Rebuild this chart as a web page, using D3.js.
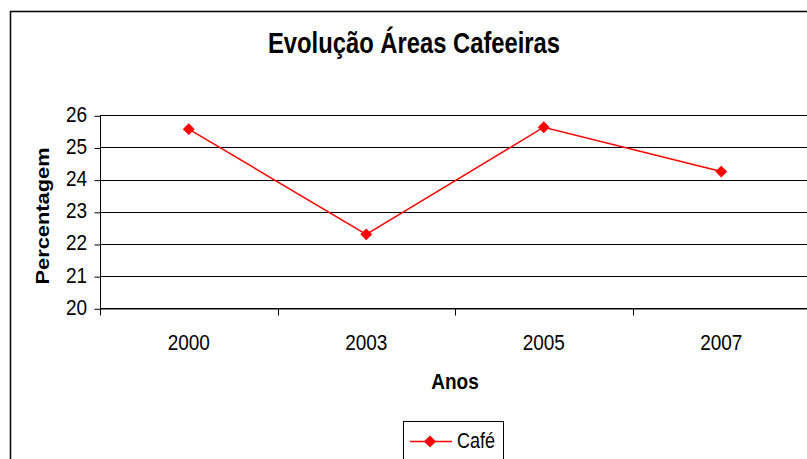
<!DOCTYPE html>
<html>
  <head>
    <meta charset="utf-8">
    <title>Evolução Áreas Cafeeiras</title>
    <script src="https://d3js.org/d3.v7.min.js"></script>
    <style>
      body { margin: 0; background: #fff; }
      text { font-family: "Liberation Sans", Arial, sans-serif; fill: #000; }
    </style>
  </head>
  <body>
    <svg id="grafico"></svg>
    <script>
      // dados
      var anos = ["2000", "2003", "2005", "2007"];
      var cafe = [25.57, 22.3, 25.63, 24.25];
      var ticksY = [20, 21, 22, 23, 24, 25, 26];

      var largura = 807, altura = 459;
      var esq = 100, dir = 810, topo = 115.3, base = 308.3;
      var esticar = 1.2; // o original está esticado na vertical

      var svg = d3.select("#grafico")
        .attr("width", largura)
        .attr("height", altura);

      // moldura exterior
      svg.append("rect")
        .attr("x", 10.5).attr("y", 11.5)
        .attr("width", 820).attr("height", 470)
        .attr("fill", "none").attr("stroke", "#000").attr("stroke-width", 1.5);

      var x = d3.scaleBand().domain(anos).range([esq, dir]);
      var y = d3.scaleLinear().domain([20, 26]).range([base, topo]);

      function texto(tx, ty, t, tam, peso, ancora, rot) {
        var tr = "translate(" + tx + "," + ty + ")" + (rot ? " rotate(" + rot + ")" : "");
        tr += rot ? " scale(" + esticar + ",1)" : " scale(1," + esticar + ")";
        return svg.append("text")
          .attr("transform", tr)
          .attr("text-anchor", ancora || "middle")
          .attr("font-size", tam)
          .attr("font-weight", peso || "normal")
          .text(t);
      }

      // linhas de grelha
      svg.append("g").selectAll("line")
        .data(ticksY)
        .join("line")
        .attr("x1", esq).attr("x2", dir)
        .attr("y1", function(d) { return Math.round(y(d)) + 0.5; })
        .attr("y2", function(d) { return Math.round(y(d)) + 0.5; })
        .attr("stroke", "#000").attr("stroke-width", 1);

      // eixo Y
      var eixoY = d3.axisLeft(y).tickValues(ticksY).tickSize(6).tickFormat("");
      var gY = svg.append("g").attr("transform", "translate(" + (esq + 0.5) + ",0.5)").call(eixoY);
      gY.select(".domain").attr("d", "M0," + (Math.round(topo) - 0.5) + "V" + (Math.round(base) + 7));
      gY.selectAll("line, path").attr("stroke", "#000");

      ticksY.forEach(function(d) {
        texto(87, y(d) + 6.5, d, 19, "normal", "end");
      });

      // eixo X
      var eixoX = d3.axisBottom(x).tickSize(0).tickFormat("");
      var gX = svg.append("g").attr("transform", "translate(0," + (Math.round(base) + 0.5) + ")").call(eixoX);
      gX.select(".domain").attr("stroke", "#000");
      gX.selectAll(".divisao")
        .data(anos.slice(1).concat(["fim"]))
        .join("line")
        .attr("x1", function(d, i) { return Math.round(x(anos[0]) + (i + 1) * x.step()) + 0.5; })
        .attr("x2", function(d, i) { return Math.round(x(anos[0]) + (i + 1) * x.step()) + 0.5; })
        .attr("y1", 0).attr("y2", 7)
        .attr("stroke", "#000");

      anos.forEach(function(a) {
        texto(x(a) + x.bandwidth() / 2, 350, a, 19, "normal", "middle");
      });

      // série
      var linha = d3.line()
        .x(function(d, i) { return x(anos[i]) + x.bandwidth() / 2; })
        .y(function(d) { return y(d); });

      svg.append("path")
        .datum(cafe)
        .attr("d", linha)
        .attr("fill", "none")
        .attr("stroke", "#ff0000")
        .attr("stroke-width", 1.5);

      var losango = d3.symbol().type(d3.symbolDiamond2).size(90);
      svg.append("g").selectAll("path")
        .data(cafe)
        .join("path")
        .attr("d", losango)
        .attr("transform", function(d, i) {
          return "translate(" + (x(anos[i]) + x.bandwidth() / 2) + "," + y(d) + ")";
        })
        .attr("fill", "#ff0000");

      // títulos
      texto(414, 53, "Evolução Áreas Cafeeiras", 23.8, "bold", "middle");
      texto(455, 389, "Anos", 19, "bold", "middle");
      texto(49, 216, "Percentagem", 18.2, "bold", "middle", -90);

      // legenda
      svg.append("rect")
        .attr("x", 403.5).attr("y", 421.5)
        .attr("width", 100).attr("height", 60)
        .attr("fill", "none").attr("stroke", "#000").attr("stroke-width", 1);
      svg.append("line")
        .attr("x1", 410).attr("x2", 452)
        .attr("y1", 441.5).attr("y2", 441.5)
        .attr("stroke", "#ff0000").attr("stroke-width", 1.5);
      svg.append("path")
        .attr("d", losango)
        .attr("transform", "translate(430,441.5)")
        .attr("fill", "#ff0000");
      texto(457, 447.5, "Café", 18, "normal", "start");
    </script>
  </body>
</html>
